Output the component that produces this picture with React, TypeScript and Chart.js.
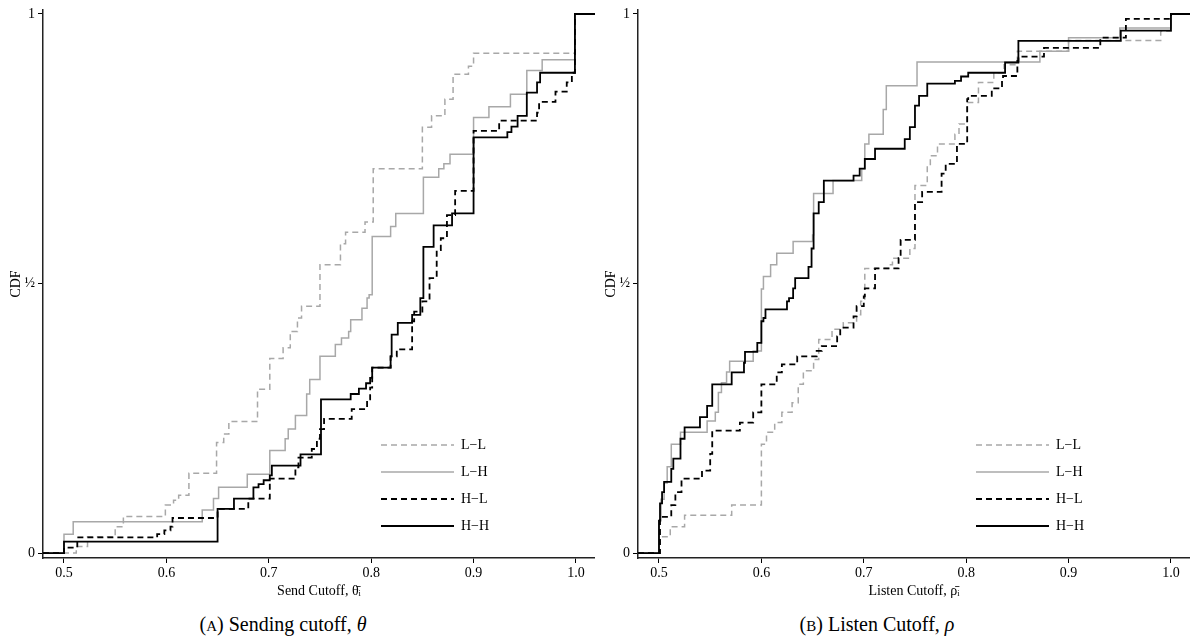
import React, { useEffect, useRef } from 'react';
import { Chart, registerables } from 'chart.js';

Chart.register(...registerables);

const FONT = '"Liberation Serif", "DejaVu Serif", serif';

// ---- shared axis data ----
const xTickValues = [0.5, 0.6, 0.7, 0.8, 0.9, 1.0];
const yTickValues = [0, 0.5, 1];
const yTickLabels = ['0', '½', '1'];
const seriesNames = ['L\u2212L', 'L\u2212H', 'H\u2212L', 'H\u2212H'];

// ---- Panel A: Send cutoff ----
const sendLL_x = [0.4795, 0.512, 0.523, 0.550, 0.558, 0.599, 0.607, 0.612, 0.622, 0.649, 0.656, 0.661, 0.689, 0.701, 0.714, 0.721, 0.728, 0.732, 0.750, 0.770, 0.775, 0.794, 0.802, 0.850, 0.859, 0.872, 0.880, 0.895, 0.900, 0.999, 1.02];
const sendLL_y = [0, 0.012, 0.030, 0.049, 0.068, 0.089, 0.098, 0.107, 0.148, 0.205, 0.221, 0.244, 0.304, 0.361, 0.381, 0.411, 0.436, 0.458, 0.535, 0.574, 0.595, 0.614, 0.713, 0.790, 0.811, 0.842, 0.888, 0.903, 0.927, 1, 1];

const sendLH_x = [0.4795, 0.500, 0.509, 0.623, 0.635, 0.646, 0.651, 0.679, 0.701, 0.716, 0.719, 0.726, 0.737, 0.740, 0.750, 0.765, 0.771, 0.778, 0.780, 0.791, 0.796, 0.798, 0.801, 0.819, 0.824, 0.851, 0.866, 0.871, 0.877, 0.900, 0.915, 0.936, 0.952, 0.967, 0.999, 1.02];
const sendLH_y = [0, 0.035, 0.058, 0.058, 0.080, 0.101, 0.122, 0.146, 0.190, 0.212, 0.230, 0.255, 0.295, 0.322, 0.365, 0.387, 0.399, 0.411, 0.433, 0.454, 0.473, 0.479, 0.587, 0.606, 0.630, 0.697, 0.713, 0.722, 0.740, 0.808, 0.828, 0.851, 0.895, 0.915, 1, 1];

const sendHL_x = [0.4795, 0.500, 0.513, 0.591, 0.598, 0.604, 0.606, 0.650, 0.680, 0.701, 0.726, 0.729, 0.742, 0.747, 0.750, 0.754, 0.781, 0.796, 0.799, 0.801, 0.819, 0.825, 0.840, 0.842, 0.850, 0.857, 0.864, 0.868, 0.874, 0.882, 0.900, 0.925, 0.962, 0.964, 0.980, 0.991, 0.996, 0.999, 1.02];
const sendHL_y = [0, 0.010, 0.029, 0.035, 0.042, 0.049, 0.065, 0.082, 0.101, 0.138, 0.159, 0.177, 0.193, 0.212, 0.230, 0.249, 0.267, 0.285, 0.307, 0.344, 0.365, 0.378, 0.430, 0.448, 0.467, 0.510, 0.562, 0.584, 0.627, 0.672, 0.783, 0.802, 0.817, 0.837, 0.856, 0.873, 0.891, 1, 1];

const sendHH_x = [0.4795, 0.500, 0.650, 0.666, 0.685, 0.690, 0.695, 0.701, 0.703, 0.731, 0.751, 0.780, 0.788, 0.795, 0.799, 0.801, 0.819, 0.820, 0.826, 0.840, 0.848, 0.851, 0.861, 0.879, 0.900, 0.933, 0.937, 0.943, 0.952, 0.962, 0.965, 0.999, 1.02];
const sendHH_y = [0, 0.021, 0.082, 0.101, 0.122, 0.128, 0.135, 0.144, 0.162, 0.183, 0.285, 0.295, 0.305, 0.315, 0.325, 0.344, 0.365, 0.405, 0.427, 0.442, 0.473, 0.568, 0.608, 0.630, 0.771, 0.781, 0.791, 0.811, 0.854, 0.873, 0.891, 1, 1];

// ---- Panel B: Listen cutoff ----
const listenLL_x = [0.4795, 0.501, 0.511, 0.525, 0.571, 0.600, 0.605, 0.613, 0.620, 0.630, 0.636, 0.641, 0.651, 0.656, 0.669, 0.680, 0.693, 0.697, 0.701, 0.726, 0.728, 0.745, 0.750, 0.762, 0.765, 0.772, 0.789, 0.793, 0.801, 0.812, 0.827, 0.837, 0.850, 0.900, 0.990, 1.0, 1.02];
const listenLL_y = [0, 0.030, 0.049, 0.070, 0.089, 0.202, 0.224, 0.242, 0.261, 0.279, 0.313, 0.338, 0.359, 0.396, 0.415, 0.427, 0.442, 0.467, 0.528, 0.535, 0.547, 0.565, 0.682, 0.719, 0.737, 0.759, 0.777, 0.796, 0.836, 0.873, 0.891, 0.906, 0.931, 0.951, 0.968, 1, 1];

const listenLH_x = [0.4795, 0.500, 0.502, 0.505, 0.508, 0.512, 0.521, 0.547, 0.555, 0.558, 0.561, 0.566, 0.569, 0.592, 0.600, 0.602, 0.609, 0.615, 0.631, 0.650, 0.651, 0.670, 0.698, 0.701, 0.705, 0.719, 0.722, 0.752, 0.872, 0.900, 0.950, 1.0, 1.02];
const listenLH_y = [0, 0.06, 0.10, 0.13, 0.16, 0.202, 0.224, 0.245, 0.261, 0.298, 0.316, 0.336, 0.356, 0.375, 0.49, 0.513, 0.535, 0.556, 0.578, 0.590, 0.667, 0.691, 0.713, 0.759, 0.777, 0.823, 0.867, 0.911, 0.931, 0.956, 0.974, 1, 1];

const listenHL_x = [0.4795, 0.501, 0.512, 0.516, 0.522, 0.542, 0.550, 0.552, 0.579, 0.592, 0.600, 0.615, 0.620, 0.635, 0.654, 0.659, 0.674, 0.677, 0.690, 0.693, 0.700, 0.701, 0.711, 0.734, 0.736, 0.750, 0.757, 0.776, 0.780, 0.791, 0.801, 0.802, 0.825, 0.835, 0.836, 0.850, 0.851, 0.876, 0.931, 0.956, 1.0, 1.02];
const listenHL_y = [0, 0.067, 0.089, 0.113, 0.138, 0.153, 0.184, 0.227, 0.242, 0.261, 0.313, 0.335, 0.350, 0.365, 0.375, 0.384, 0.402, 0.418, 0.439, 0.458, 0.476, 0.491, 0.528, 0.547, 0.581, 0.651, 0.670, 0.704, 0.722, 0.759, 0.842, 0.848, 0.862, 0.876, 0.885, 0.913, 0.921, 0.937, 0.956, 0.991, 1, 1];

const listenHH_x = [0.4795, 0.500, 0.501, 0.503, 0.505, 0.512, 0.514, 0.521, 0.525, 0.540, 0.547, 0.552, 0.571, 0.583, 0.584, 0.596, 0.600, 0.602, 0.604, 0.625, 0.627, 0.631, 0.633, 0.646, 0.649, 0.651, 0.656, 0.661, 0.690, 0.696, 0.701, 0.711, 0.740, 0.745, 0.750, 0.754, 0.762, 0.789, 0.795, 0.802, 0.838, 0.851, 0.951, 1.0, 1.02];
const listenHH_y = [0, 0.06, 0.092, 0.113, 0.132, 0.156, 0.175, 0.212, 0.233, 0.252, 0.273, 0.313, 0.335, 0.353, 0.373, 0.390, 0.430, 0.436, 0.452, 0.467, 0.473, 0.491, 0.510, 0.531, 0.565, 0.630, 0.651, 0.691, 0.700, 0.713, 0.731, 0.750, 0.768, 0.790, 0.830, 0.848, 0.871, 0.876, 0.884, 0.891, 0.910, 0.950, 0.969, 1, 1];

// ---- styles per series (L-L, L-H, H-L, H-H) ----
const GRAY = '#a8a8a8';
const seriesStyles = [
  { color: GRAY, width: 1.5, dash: [6, 4], order: 3 },
  { color: GRAY, width: 1.5, dash: [] as number[], order: 2 },
  { color: '#000', width: 1.8, dash: [6, 4], order: 1 },
  { color: '#000', width: 1.8, dash: [] as number[], order: 0 },
];

const insideLegend = {
  id: 'insideLegend',
  afterDatasetsDraw(chart: any) {
    const { ctx, chartArea } = chart;
    const x0 = chartArea.right - 214;
    seriesNames.forEach((name, i) => {
      const st = seriesStyles[i];
      const y = chartArea.bottom - 113 + i * 27;
      ctx.save();
      ctx.strokeStyle = st.color;
      ctx.lineWidth = st.width;
      ctx.setLineDash(st.dash);
      ctx.beginPath();
      ctx.moveTo(x0, y);
      ctx.lineTo(x0 + 73, y);
      ctx.stroke();
      ctx.setLineDash([]);
      ctx.fillStyle = '#000';
      ctx.font = `14px ${FONT}`;
      ctx.textBaseline = 'middle';
      ctx.textAlign = 'left';
      ctx.fillText(name, x0 + 80, y);
      ctx.restore();
    });
  },
};

function Panel({ xs, ys, xTitle, left }: { xs: number[][]; ys: number[][]; xTitle: string; left: number }) {
  const ref = useRef<HTMLCanvasElement | null>(null);
  useEffect(() => {
    if (!ref.current) return;
    const datasets = seriesNames.map((name, i) => ({
      label: name,
      data: xs[i].map((x, j) => ({ x, y: ys[i][j] })),
      borderColor: seriesStyles[i].color,
      borderWidth: seriesStyles[i].width,
      borderDash: seriesStyles[i].dash,
      stepped: 'before' as const,
      pointRadius: 0,
      fill: false,
      order: seriesStyles[i].order,
    }));
    const chart = new Chart(ref.current, {
      type: 'line',
      data: { datasets },
      options: {
        animation: false,
        responsive: false,
        devicePixelRatio: 1,
        layout: { padding: { top: 5, left: 0, right: 0, bottom: 0 } },
        plugins: { legend: { display: false }, tooltip: { enabled: false } },
        scales: {
          x: {
            type: 'linear',
            min: 0.4795,
            max: 1.0186,
            afterBuildTicks: (s: any) => {
              s.ticks = xTickValues.map((v) => ({ value: v }));
            },
            afterFit: (s: any) => {
              s.height = 42;
            },
            ticks: {
              callback: (v: any) => Number(v).toFixed(1),
              font: { family: FONT, size: 14, lineHeight: 1 },
              color: '#000',
              padding: 3,
              maxRotation: 0,
              autoSkip: false,
            },
            grid: { drawOnChartArea: false, drawTicks: true, tickLength: 5, color: '#000', lineWidth: 1 },
            border: { display: true, color: '#222', width: 1.5 },
            title: { display: true, text: xTitle, font: { family: FONT, size: 14 }, color: '#000', padding: { top: 0, bottom: 0 } },
          },
          y: {
            type: 'linear',
            min: -0.0092,
            max: 1.0074,
            afterBuildTicks: (s: any) => {
              s.ticks = yTickValues.map((v) => ({ value: v }));
            },
            afterFit: (s: any) => {
              s.width = 43;
            },
            ticks: {
              callback: (_v: any, idx: number) => yTickLabels[idx],
              font: { family: FONT, size: 14, lineHeight: 1 },
              color: '#000',
              padding: 3,
            },
            grid: { drawOnChartArea: false, drawTicks: true, tickLength: 5, color: '#000', lineWidth: 1 },
            border: { display: true, color: '#222', width: 1.5 },
            title: { display: true, text: 'CDF', font: { family: FONT, size: 14 }, color: '#000', padding: { top: 8, bottom: 0 } },
          },
        },
      },
      plugins: [insideLegend],
    } as any);
    return () => chart.destroy();
  }, []);
  return (
    <canvas
      ref={ref}
      width={595}
      height={600}
      style={{ position: 'absolute', left, top: 0, width: 595, height: 600 }}
    />
  );
}

const captionStyle: React.CSSProperties = {
  position: 'absolute',
  top: 612,
  width: 300,
  textAlign: 'center',
  fontFamily: FONT,
  fontSize: 20,
  lineHeight: '24px',
  color: '#000',
  whiteSpace: 'nowrap',
};

export default function App() {
  return (
    <div style={{ position: 'absolute', left: 0, top: 0, width: 1190, height: 644, background: '#fff', overflow: 'hidden' }}>
      <Panel
        xs={[sendLL_x, sendLH_x, sendHL_x, sendHH_x]}
        ys={[sendLL_y, sendLH_y, sendHL_y, sendHH_y]}
        xTitle={'Send Cutoff, \u03B8\u0304\u1D62'}
        left={0}
      />
      <Panel
        xs={[listenLL_x, listenLH_x, listenHL_x, listenHH_x]}
        ys={[listenLL_y, listenLH_y, listenHL_y, listenHH_y]}
        xTitle={'Listen Cutoff, \u03C1\u0304\u1D62'}
        left={595}
      />
      <div style={{ ...captionStyle, left: 283 - 150 }}>
        (<span style={{ fontSize: 15 }}>A</span>) Sending cutoff, <i>θ</i>
      </div>
      <div style={{ ...captionStyle, left: 877 - 150 }}>
        (<span style={{ fontSize: 15 }}>B</span>) Listen Cutoff, <i>ρ</i>
      </div>
    </div>
  );
}
